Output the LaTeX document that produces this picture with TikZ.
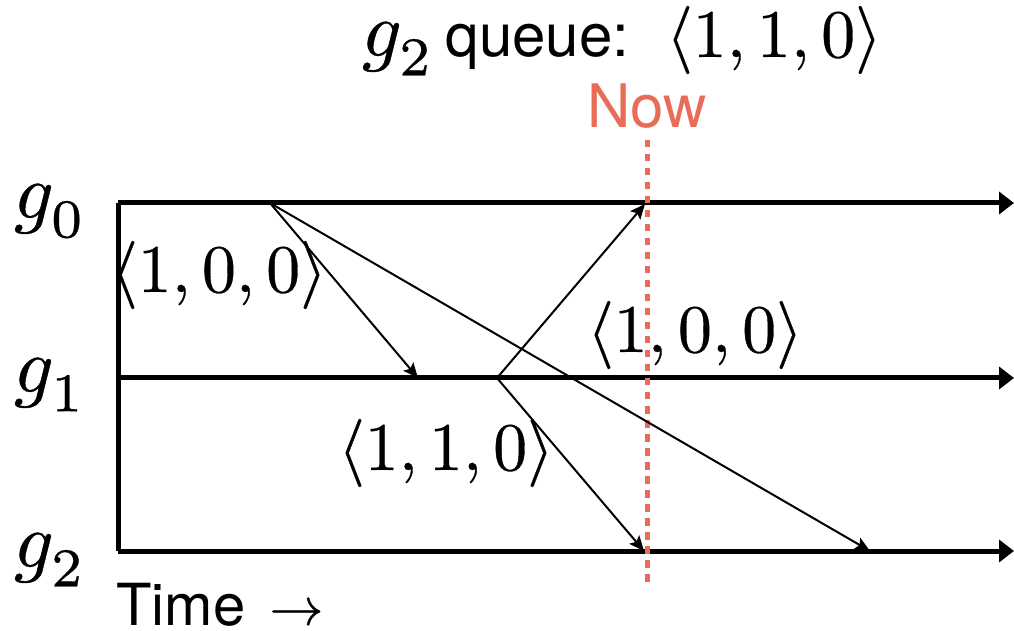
\RequirePackage{fix-cm}
\documentclass[tikz,border=0pt]{standalone}
\usepackage{fontspec}
\usepackage{unicode-math}
\setmathfont{Latin Modern Math}[FakeBold=0.5]
\newfontfamily\hv{TeX Gyre Heros}
\usetikzlibrary{arrows.meta}
\definecolor{nowred}{RGB}{233,108,88}
\newcommand{\vtriple}[3]{$\langle #1, #2, #3\rangle$}
\tikzset{
  track/.style={line width=2.5pt, -{Triangle[length=7.5pt,width=11pt]}},
  axisline/.style={line width=2.5pt},
  msg/.style={line width=1pt, -{Stealth[length=7.5pt,width=6.5pt,inset=1.5pt]}},
  mlbl/.style={font=\fontsize{10}{12}\selectfont, inner sep=0pt, scale=3.4, anchor=base},
  glbl/.style={font=\fontsize{10}{12}\selectfont, inner sep=0pt, scale=3.9, anchor=base},
  slbl/.style={inner sep=0pt, anchor=base},
  nowline/.style={nowred, line width=2.5pt, dash pattern=on 3.75pt off 3.25pt},
}
\begin{document}
\begin{tikzpicture}[x=0.5pt,y=-0.5pt]
\useasboundingbox (0,0) rectangle (1014,631);
% track coordinates
\coordinate (s0) at (118,203);
\coordinate (e0) at (1014,203);
\coordinate (s1) at (118,378);
\coordinate (e1) at (1014,378);
\coordinate (s2) at (118,551);
\coordinate (e2) at (1014,551);
% events
\coordinate (a) at (270,203);
\coordinate (b) at (418,378);
\coordinate (c) at (497,378);
\coordinate (d) at (645,204);
\coordinate (f) at (644,551);
\coordinate (h) at (870,551);
\coordinate (nt) at (647,140);
\coordinate (nb) at (647,585);
% tracks
\draw[axisline] (s0) -- (s2);
\draw[track] (s0) -- (e0);
\draw[track] (s1) -- (e1);
\draw[track] (s2) -- (e2);
% now
\draw[nowline] (nt) -- (nb);
% messages
\draw[msg] (a) -- (b);
\draw[msg] (a) -- (h);
\draw[msg] (c) -- (d);
\draw[msg] (c) -- (f);
% labels
\node[glbl] (g0) at (50,218) {$g_0$};
\node[glbl] (g1) at (50,392) {$g_1$};
\node[glbl] (g2) at (50,567) {$g_2$};
\node[mlbl] (l1) at (219,292) {\vtriple{1}{0}{0}};
\node[mlbl] (l2) at (695,352) {\vtriple{1}{0}{0}};
\node[mlbl] (l3) at (446,470) {\vtriple{1}{1}{0}};
\node[glbl] (tg) at (398,56) {$g_2$};
\node[slbl, anchor=base west, font=\hv\fontsize{30}{36}\selectfont] (tq) at (445,57) {queue:};
\node[mlbl] (tv) at (774,57) {\vtriple{1}{1}{0}};
\node[slbl, text=nowred, font=\hv\fontsize{30}{36}\selectfont] (now) at (647,128) {Now};
\node[slbl, anchor=base west, font=\hv\fontsize{29}{34}\selectfont] (time) at (116,625) {Time\hspace{12pt}\fontsize{27}{32}\selectfont$\rightarrow$};
\end{tikzpicture}
\end{document}
